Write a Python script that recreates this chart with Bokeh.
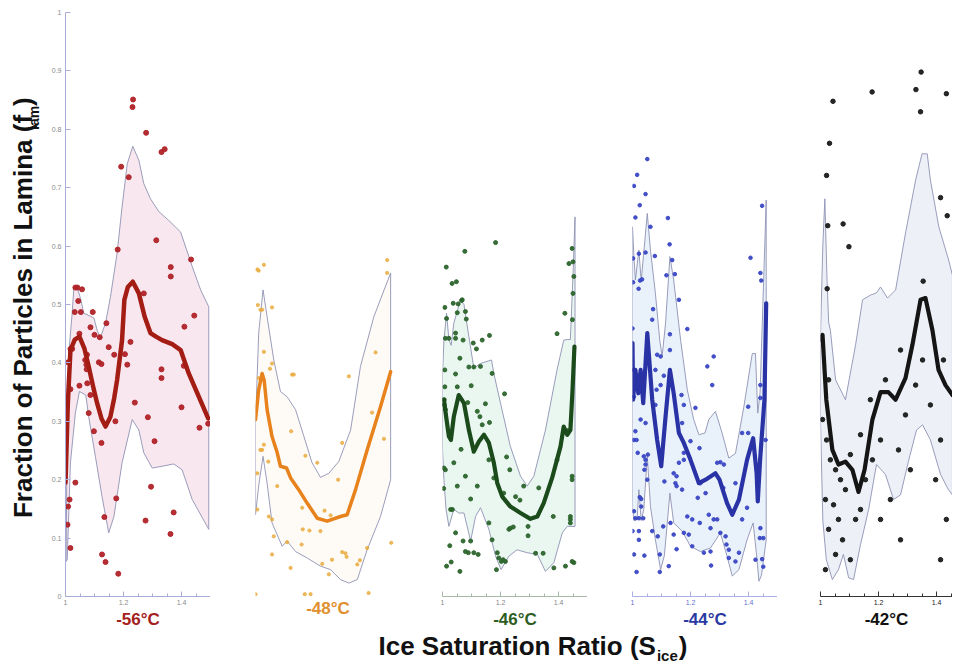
import math
from bokeh.plotting import figure
from bokeh.models import Range1d, FixedTicker, CustomJSTickFormatter, Label
from bokeh.layouts import row, column
from bokeh.embed import file_html
from bokeh.resources import INLINE

# ---------------- data ----------------
temps = ["-56°C", "-48°C", "-46°C", "-44°C", "-42°C"]
x_ticks = [1.0, 1.2, 1.4]
x_minor = [1.05, 1.1, 1.15, 1.25, 1.3, 1.35, 1.45]
y_ticks = [0, 0.1, 0.2, 0.3, 0.4, 0.5, 0.6, 0.7, 0.8, 0.9, 1.0]

# -56 C
t56_points = [(1.233,0.851),(1.231,0.838),(1.278,0.794),(1.331,0.761),(1.342,0.766),(1.192,0.736),(1.218,0.718),
    (1.313,0.610),(1.180,0.594),(1.433,0.577),(1.363,0.564),(1.363,0.548),(1.270,0.519),(1.444,0.481),(1.410,0.462),
    (1.141,0.468),(1.034,0.529),(1.041,0.529),(1.057,0.526),(1.044,0.506),(1.032,0.487),(1.053,0.487),(1.094,0.487),
    (1.086,0.461),(1.100,0.448),(1.048,0.450),(1.017,0.424),(1.023,0.424),(1.009,0.401),(1.074,0.414),(1.068,0.405),
    (1.072,0.397),(1.073,0.389),(1.115,0.401),(1.124,0.398),(1.118,0.444),(1.149,0.427),(1.168,0.414),(1.224,0.436),
    (1.205,0.415),(1.213,0.397),(1.048,0.361),(1.075,0.365),(1.017,0.355),(1.086,0.345),(1.080,0.314),(1.098,0.283),
    (1.124,0.263),(1.172,0.300),(1.239,0.332),(1.284,0.307),(1.307,0.266),(1.331,0.389),(1.331,0.374),(1.408,0.395),
    (1.400,0.324),(1.462,0.289),(1.492,0.296),(1.295,0.188),(1.175,0.168),(1.034,0.195),(1.014,0.166),(1.009,0.154),
    (1.007,0.123),(1.017,0.083),(1.134,0.136),(1.276,0.130),(1.373,0.144),(1.362,0.107),(1.126,0.072),(1.138,0.059),
    (1.182,0.039)]
t56_mean_x = [1.0,1.008,1.017,1.032,1.048,1.065,1.080,1.095,1.109,1.124,1.138,1.155,1.168,1.178,1.195,1.203,1.215,
    1.232,1.253,1.273,1.293,1.312,1.333,1.368,1.397,1.425,1.460,1.492]
t56_mean_y = [0.195,0.33,0.422,0.44,0.445,0.425,0.394,0.36,0.331,0.305,0.291,0.308,0.34,0.371,0.439,0.508,0.53,
    0.539,0.519,0.479,0.451,0.445,0.439,0.432,0.422,0.382,0.342,0.305]
t56_up_x = [1.002,1.006,1.012,1.023,1.029,1.040,1.052,1.063,1.086,1.098,1.109,1.120,1.138,1.155,1.178,1.195,1.213,
    1.232,1.253,1.270,1.293,1.322,1.356,1.397,1.437,1.466,1.494]
t56_up_y = [0.06,0.30,0.42,0.485,0.53,0.53,0.51,0.485,0.48,0.477,0.456,0.443,0.468,0.513,0.588,0.667,0.741,0.771,
    0.747,0.707,0.681,0.659,0.644,0.624,0.565,0.525,0.496]
t56_lo_x = [1.002,1.006,1.017,1.034,1.048,1.070,1.080,1.103,1.126,1.149,1.167,1.195,1.230,1.253,1.270,1.299,1.333,
    1.373,1.402,1.437,1.494]
t56_lo_y = [0.06,0.063,0.229,0.314,0.351,0.345,0.308,0.240,0.171,0.109,0.137,0.229,0.303,0.285,0.246,0.220,0.223,
    0.227,0.217,0.166,0.115]

# -48 C
t48_points = [(1.006,0.560),(1.011,0.558),(1.029,0.568),(1.454,0.554),(1.454,0.576),(1.008,0.499),(1.017,0.491),
    (1.023,0.491),(1.057,0.495),(1.029,0.419),(1.057,0.399),(1.050,0.390),(1.126,0.380),(1.132,0.380),(1.011,0.374),
    (1.414,0.418),(1.322,0.377),(1.402,0.315),(1.443,0.270),(1.123,0.283),(1.299,0.263),(1.029,0.260),(1.017,0.251),
    (1.023,0.251),(1.044,0.231),(1.172,0.241),(1.006,0.211),(1.075,0.189),(1.213,0.229),(1.285,0.200),(1.161,0.152),
    (1.238,0.147),(1.006,0.149),(1.046,0.137),(1.057,0.132),(1.259,0.139),(1.163,0.115),(1.186,0.113),(1.224,0.112),
    (1.063,0.103),(1.159,0.089),(1.109,0.093),(1.299,0.076),(1.310,0.074),(1.314,0.068),(1.264,0.063),(1.230,0.056),
    (1.360,0.062),(1.351,0.055),(1.385,0.083),(1.468,0.092),(1.121,0.049),(1.057,0.072),(1.253,0.038),(1.0,0.004),
    (1.17,0.004),(1.19,0.004),(1.39,0.006)]
t48_mean_x = [1.0,1.011,1.023,1.030,1.040,1.057,1.075,1.086,1.107,1.121,1.149,1.178,1.213,1.247,1.293,1.316,1.345,
    1.385,1.431,1.466]
t48_mean_y = [0.303,0.354,0.382,0.37,0.320,0.274,0.246,0.223,0.22,0.203,0.183,0.160,0.134,0.129,0.137,0.14,0.183,
    0.251,0.325,0.385]
t48_up_x = [1.0,1.011,1.026,1.040,1.063,1.086,1.109,1.138,1.167,1.195,1.224,1.253,1.287,1.328,1.362,1.408,1.466]
t48_up_y = [0.296,0.451,0.525,0.479,0.405,0.351,0.342,0.320,0.274,0.229,0.204,0.211,0.231,0.285,0.394,0.479,0.554]
t48_lo_x = [1.0,1.011,1.026,1.040,1.057,1.092,1.109,1.138,1.178,1.224,1.259,1.293,1.322,1.351,1.385,1.431,1.466]
t48_lo_y = [0.14,0.19,0.240,0.194,0.126,0.086,0.095,0.077,0.066,0.052,0.046,0.029,0.023,0.029,0.080,0.137,0.2]

# -46 C
t46_points = [(1.183,0.606),(1.077,0.591),(1.013,0.564),(1.033,0.536),(1.048,0.539),(1.008,0.495),(1.054,0.501),
    (1.066,0.507),(1.068,0.508),(1.037,0.502),(1.014,0.476),(1.051,0.486),(1.079,0.488),(1.082,0.475),(1.010,0.442),
    (1.022,0.442),(1.045,0.442),(1.045,0.451),(1.071,0.439),(1.137,0.439),(1.162,0.447),(1.106,0.434),(1.117,0.424),
    (1.060,0.408),(1.008,0.388),(1.091,0.393),(1.108,0.393),(1.045,0.381),(1.131,0.394),(1.171,0.382),(1.008,0.359),
    (1.051,0.359),(1.099,0.361),(1.214,0.347),(1.006,0.337),(1.006,0.328),(1.010,0.320),(1.087,0.332),(1.148,0.330),
    (1.120,0.317),(1.129,0.308),(1.162,0.298),(1.137,0.294),(1.064,0.252),(1.039,0.229),(1.005,0.220),(1.010,0.217),
    (1.160,0.234),(1.221,0.239),(1.232,0.217),(1.079,0.206),(1.051,0.189),(1.120,0.189),(1.177,0.203),(1.211,0.177),
    (1.004,0.185),(1.097,0.167),(1.332,0.186),(1.280,0.189),(1.252,0.171),(1.267,0.165),(1.395,0.234),(1.432,0.284),
    (1.447,0.206),(1.447,0.200),(1.028,0.149),(1.034,0.149),(1.382,0.137),(1.441,0.137),(1.441,0.132),(1.441,0.126),
    (1.160,0.126),(1.234,0.117),(1.229,0.115),(1.244,0.119),(1.295,0.120),(1.295,0.104),(1.045,0.109),(1.071,0.095),
    (1.097,0.095),(1.171,0.097),(1.025,0.087),(1.079,0.077),(1.108,0.075),(1.123,0.072),(1.089,0.075),(1.189,0.075),
    (1.194,0.066),(1.209,0.063),(1.217,0.060),(1.203,0.060),(1.321,0.074),(1.347,0.074),(1.030,0.059),(1.014,0.052),
    (1.060,0.043),(1.186,0.046),(1.384,0.049),(1.424,0.052),(1.447,0.060),(1.453,0.058),(1.447,0.596),(1.450,0.573),
    (1.453,0.548),(1.450,0.519),(1.448,0.474),(1.436,0.570),(1.422,0.485),(1.395,0.450)]
t46_mean_x = [1.0,1.005,1.012,1.022,1.029,1.039,1.056,1.074,1.091,1.108,1.125,1.143,1.160,1.177,1.189,1.206,1.234,
    1.269,1.303,1.327,1.349,1.378,1.407,1.418,1.430,1.441,1.448,1.455]
t46_mean_y = [0.33,0.337,0.31,0.274,0.268,0.308,0.345,0.331,0.285,0.248,0.265,0.277,0.263,0.229,0.194,0.171,0.154,
    0.143,0.133,0.137,0.160,0.203,0.257,0.291,0.277,0.285,0.35,0.428]
t46_up_x = [1.0,1.005,1.014,1.022,1.030,1.039,1.062,1.074,1.091,1.108,1.131,1.169,1.177,1.200,1.234,1.269,1.292,
    1.315,1.355,1.395,1.418,1.430,1.441,1.450,1.457]
t46_up_y = [0.38,0.439,0.485,0.44,0.43,0.468,0.508,0.50,0.445,0.391,0.399,0.405,0.382,0.331,0.257,0.206,0.189,
    0.206,0.285,0.388,0.439,0.44,0.44,0.55,0.65]
t46_lo_x = [1.0,1.005,1.012,1.022,1.039,1.056,1.074,1.097,1.114,1.131,1.160,1.183,1.202,1.229,1.257,1.292,1.327,
    1.355,1.384,1.413,1.430,1.441,1.457]
t46_lo_y = [0.25,0.2,0.15,0.120,0.149,0.143,0.143,0.095,0.137,0.152,0.115,0.069,0.046,0.069,0.080,0.075,0.072,
    0.043,0.058,0.109,0.12,0.120,0.12]

# -44 C
t44_points = [(1.051,0.749),(1.016,0.722),(1.005,0.703),(1.045,0.689),(1.025,0.670),(1.010,0.649),(1.122,0.648),
    (1.447,0.669),(1.062,0.633),(1.128,0.603),(1.002,0.579),(1.022,0.587),(1.045,0.589),(1.077,0.583),(1.137,0.576),
    (1.407,0.580),(1.117,0.550),(1.146,0.552),(1.002,0.538),(1.026,0.541),(1.033,0.543),(1.021,0.527),(1.441,0.554),
    (1.444,0.541),(1.160,0.508),(1.071,0.492),(1.068,0.474),(1.000,0.459),(1.189,0.458),(1.129,0.449),(1.129,0.422),
    (1.097,0.411),(1.085,0.414),(1.280,0.411),(1.258,0.394),(1.005,0.388),(1.079,0.388),(1.108,0.378),(1.275,0.362),
    (1.441,0.362),(1.083,0.354),(1.097,0.362),(1.005,0.342),(1.169,0.345),(1.079,0.328),(1.177,0.328),(1.399,0.325),
    (1.441,0.340),(1.217,0.323),(1.028,0.303),(1.045,0.297),(1.171,0.297),(1.010,0.283),(1.005,0.268),(1.014,0.268),
    (1.200,0.266),(1.378,0.280),(1.399,0.280),(1.459,0.268),(1.018,0.246),(1.039,0.240),(1.053,0.243),(1.045,0.234),
    (1.045,0.226),(1.231,0.254),(1.177,0.246),(1.177,0.234),(1.041,0.217),(1.051,0.200),(1.160,0.229),(1.142,0.211),
    (1.152,0.206),(1.110,0.197),(1.234,0.194),(1.355,0.194),(1.292,0.229),(1.303,0.230),(1.315,0.226),(1.148,0.194),
    (1.152,0.189),(1.171,0.183),(1.225,0.169),(1.252,0.177),(1.313,0.186),(1.395,0.152),(1.025,0.170),(1.030,0.167),
    (1.030,0.154),(1.005,0.146),(1.010,0.134),(1.022,0.134),(1.037,0.134),(1.189,0.137),(1.206,0.132),(1.263,0.140),
    (1.280,0.132),(1.292,0.132),(1.232,0.126),(1.378,0.132),(1.269,0.117),(1.131,0.126),(1.000,0.112),(1.022,0.112),
    (1.068,0.112),(1.087,0.103),(1.106,0.120),(1.142,0.106),(1.177,0.109),(1.194,0.106),(1.303,0.109),(1.321,0.103),
    (1.441,0.117),(1.439,0.100),(1.451,0.100),(1.022,0.097),(1.206,0.086),(1.246,0.075),(1.269,0.077),(1.324,0.089),
    (1.332,0.080),(1.152,0.081),(1.367,0.075),(1.094,0.072),(1.005,0.072),(1.041,0.070),(1.332,0.066),(1.355,0.060),
    (1.424,0.063),(1.447,0.064),(1.451,0.051),(1.125,0.052),(1.271,0.053),(1.014,0.042),(1.094,0.042)]
t44_mean_x = [1.0,1.002,1.010,1.020,1.028,1.037,1.051,1.068,1.085,1.099,1.114,1.129,1.142,1.160,1.177,1.200,1.229,
    1.252,1.286,1.300,1.326,1.344,1.367,1.395,1.416,1.428,1.432,1.440,1.455,1.461]
t44_mean_y = [0.434,0.337,0.388,0.348,0.388,0.331,0.451,0.337,0.268,0.223,0.308,0.388,0.348,0.280,0.263,0.234,0.194,
    0.2,0.211,0.2,0.160,0.140,0.166,0.234,0.271,0.211,0.163,0.234,0.337,0.502]
t44_up_x = [1.0,1.005,1.010,1.022,1.030,1.039,1.051,1.062,1.079,1.094,1.102,1.114,1.129,1.142,1.166,1.189,1.211,
    1.229,1.250,1.263,1.286,1.309,1.332,1.355,1.384,1.413,1.424,1.432,1.440,1.461]
t44_up_y = [0.633,0.582,0.542,0.593,0.54,0.59,0.656,0.593,0.519,0.439,0.411,0.468,0.582,0.542,0.439,0.354,0.303,
    0.277,0.28,0.303,0.317,0.280,0.237,0.245,0.325,0.416,0.416,0.314,0.35,0.679]
t44_lo_x = [1.0,1.005,1.016,1.022,1.030,1.039,1.051,1.062,1.079,1.097,1.110,1.129,1.142,1.171,1.200,1.234,1.269,
    1.303,1.326,1.344,1.367,1.395,1.416,1.428,1.436,1.445,1.461]
t44_lo_y = [0.149,0.13,0.132,0.183,0.13,0.149,0.240,0.154,0.097,0.046,0.07,0.177,0.126,0.112,0.086,0.077,0.083,
    0.109,0.069,0.035,0.046,0.097,0.126,0.07,0.026,0.037,0.097]

# -42 C
t42_points = [(1.347,0.898),(1.329,0.868),(1.345,0.830),(1.178,0.864),(1.043,0.848),(1.434,0.861),(1.031,0.776),
    (1.021,0.721),(1.414,0.683),(1.437,0.652),(1.025,0.635),(1.078,0.638),(1.098,0.599),(1.023,0.527),(1.354,0.540),
    (1.028,0.371),(1.007,0.303),(1.021,0.268),(1.034,0.234),(1.052,0.217),(1.069,0.200),(1.017,0.166),(1.045,0.157),
    (1.086,0.183),(1.103,0.243),(1.062,0.132),(1.028,0.115),(1.121,0.132),(1.138,0.149),(1.076,0.097),(1.052,0.072),
    (1.017,0.046),(1.103,0.063),(1.155,0.200),(1.179,0.234),(1.207,0.132),(1.241,0.166),(1.269,0.251),(1.293,0.311),
    (1.328,0.362),(1.352,0.405),(1.379,0.328),(1.414,0.268),(1.434,0.132),(1.414,0.063),(1.397,0.200),(1.310,0.217),
    (1.276,0.097),(1.172,0.337),(1.207,0.268),(1.138,0.277),(1.276,0.422),(1.424,0.405),(1.224,0.371)]
t42_mean_x = [1.0,1.007,1.020,1.041,1.062,1.086,1.110,1.131,1.152,1.179,1.207,1.234,1.259,1.293,1.317,1.345,1.362,
    1.386,1.407,1.431,1.455]
t42_mean_y = [0.44,0.448,0.337,0.251,0.226,0.231,0.217,0.179,0.217,0.303,0.350,0.350,0.337,0.374,0.431,0.508,0.511,
    0.456,0.388,0.362,0.345]
t42_up_x = [1.0,1.008,1.015,1.022,1.028,1.034,1.052,1.086,1.121,1.145,1.172,1.193,1.207,1.231,1.259,1.293,1.328,
    1.350,1.368,1.379,1.408,1.442,1.455]
t42_up_y = [0.45,0.60,0.681,0.55,0.47,0.456,0.371,0.337,0.431,0.508,0.516,0.52,0.53,0.511,0.525,0.622,0.713,0.758,
    0.758,0.713,0.633,0.576,0.55]
t42_lo_x = [1.0,1.008,1.020,1.041,1.062,1.079,1.097,1.114,1.138,1.166,1.193,1.224,1.252,1.276,1.303,1.331,1.352,
    1.379,1.414,1.441,1.455]
t42_lo_y = [0.3,0.13,0.063,0.029,0.046,0.072,0.032,0.029,0.089,0.149,0.226,0.209,0.166,0.174,0.231,0.285,0.294,
    0.268,0.209,0.183,0.174]

# ---------------- styling ----------------
FONT = "Liberation Sans"
BOUND = "#8e92b4"
FRAME_TOP = 12
FRAME_H = 585
FRAME_BOT = 34
H_ROW = FRAME_TOP + FRAME_H + FRAME_BOT

styles = [
    dict(label="#a3201b", line="#a31d14", lw=4.5, pts="#b02328", ps=5, pa=0.95, fill="#f4d3e2", fa=0.55,
         axis="#a9acd6", tick="#8a8a8a", show_axis=True, bl=23, fw=145),
    dict(label="#e0902e", line="#e8821c", lw=3.5, pts="#e9aa3c", ps=3.2, pa=0.8, fill="#fdf2e4", fa=0.3,
         axis="#ffffff", tick="#ffffff", show_axis=False, bl=45, fw=145),
    dict(label="#2e5e1f", line="#1b4a1b", lw=4.2, pts="#2d652d", ps=4, pa=0.95, fill="#dcf1e8", fa=0.6,
         axis="#a6b9a6", tick="#888888", show_axis=True, bl=42, fw=145),
    dict(label="#2a3aa3", line="#2a33a6", lw=4.2, pts="#3a47c4", ps=3.6, pa=0.95, fill="#dbe7f7", fa=0.6,
         axis="#aab0e4", tick="#6870d0", show_axis=True, bl=45, fw=145),
    dict(label="#111111", line="#151515", lw=4.2, pts="#1a1a1a", ps=4.5, pa=0.95, fill="#e1e6f2", fa=0.6,
         axis="#333333", tick="#222222", show_axis=True, bl=43, fw=132),
]
PX_PER_UNIT = 290.0

series = [
    (t56_points, t56_mean_x, t56_mean_y, t56_up_x, t56_up_y, t56_lo_x, t56_lo_y),
    (t48_points, t48_mean_x, t48_mean_y, t48_up_x, t48_up_y, t48_lo_x, t48_lo_y),
    (t46_points, t46_mean_x, t46_mean_y, t46_up_x, t46_up_y, t46_lo_x, t46_lo_y),
    (t44_points, t44_mean_x, t44_mean_y, t44_up_x, t44_up_y, t44_lo_x, t44_lo_y),
    (t42_points, t42_mean_x, t42_mean_y, t42_up_x, t42_up_y, t42_lo_x, t42_lo_y),
]

fmt_code = "return String(tick);"


def make_panel(i):
    st = styles[i]
    pts, mx, my, ux, uy, lx, ly = series[i]
    first = (i == 0)
    p = figure(width=st["bl"] + st["fw"], height=H_ROW,
               x_range=Range1d(1.0, 1.0 + st["fw"] / PX_PER_UNIT), y_range=Range1d(0.0, 1.0),
               output_backend="svg", toolbar_location=None,
               y_axis_type="linear" if first else None,
               min_border_left=st["bl"], min_border_right=0,
               min_border_top=FRAME_TOP, min_border_bottom=FRAME_BOT)
    p.outline_line_color = None
    p.background_fill_color = "white"
    p.border_fill_color = "white"
    for g in p.grid:
        g.visible = False

    p.patch(ux + lx[::-1], uy + ly[::-1], fill_color=st["fill"], fill_alpha=st["fa"],
            line_color=BOUND, line_width=1, line_alpha=0.9)
    p.scatter([a for a, b in pts], [b for a, b in pts], marker="circle", size=st["ps"],
              fill_color=st["pts"], line_color=st["pts"], alpha=st["pa"])
    p.line(mx, my, line_color=st["line"], line_width=st["lw"], line_join="round", line_cap="round")

    ax = p.xaxis[0]
    ax.ticker = FixedTicker(ticks=x_ticks, minor_ticks=x_minor)
    ax.formatter = CustomJSTickFormatter(code=fmt_code)
    ax.axis_line_color = st["axis"]
    ax.major_tick_line_color = st["axis"]
    ax.minor_tick_line_color = st["axis"]
    ax.major_tick_in = 5
    ax.major_tick_out = 0
    ax.minor_tick_in = 3
    ax.minor_tick_out = 0
    ax.major_label_text_font = FONT
    ax.major_label_text_font_size = "7px"
    ax.major_label_text_color = st["tick"]
    ax.major_label_standoff = 3
    if not st["show_axis"]:
        ax.axis_line_alpha = 0
        ax.major_tick_line_alpha = 0
        ax.minor_tick_line_alpha = 0
        ax.major_label_text_alpha = 0
    ax.axis_label = temps[i]
    ax.axis_label_text_font = FONT
    ax.axis_label_text_font_style = "bold"
    ax.axis_label_text_font_size = "17px"
    ax.axis_label_text_color = st["label"]
    ax.axis_label_standoff = 2

    if first:
        ay = p.yaxis[0]
        ay.ticker = FixedTicker(ticks=y_ticks, minor_ticks=[])
        ay.formatter = CustomJSTickFormatter(code=fmt_code)
        ay.axis_line_color = "#a9acd6"
        ay.major_tick_line_color = "#a9acd6"
        ay.minor_tick_line_color = None
        ay.major_tick_in = 5
        ay.major_tick_out = 0
        ay.major_label_text_font = FONT
        ay.major_label_text_font_size = "7px"
        ay.major_label_text_color = "#8a8a8a"
        ay.major_label_standoff = 4
    return p


panels = [make_panel(i) for i in range(5)]


def title_piece(fig, x, y, text, size, angle=0.0):
    fig.add_layout(Label(x=x, y=y, text=text, angle=angle, text_font=FONT, text_font_style="bold",
                         text_font_size=f"{size}px", text_align="center", text_baseline="middle",
                         text_color="#111111"))


# y-axis title (with subscript) in its own narrow strip; positions in pixels
YL_W = 42
yl = figure(width=YL_W, height=H_ROW, x_range=Range1d(0, YL_W), y_range=Range1d(0, H_ROW),
            x_axis_type=None, y_axis_type=None, output_backend="svg", toolbar_location=None,
            min_border_left=0, min_border_right=0, min_border_top=0, min_border_bottom=0)
yl.outline_line_color = None
MID = 0.35
ys_start = 530.0                      # pixel row where the title begins (from top)
base_x = 32.0
len_main = 15.504 * 26
len_sub = 1.723 * 14
len_par = 0.333 * 26
title_piece(yl, base_x - MID * 26, H_ROW - (ys_start - len_main / 2), "Fraction of Particles in Lamina (f", 26,
            math.pi / 2)
title_piece(yl, base_x + 6 - MID * 14, H_ROW - (ys_start - len_main - 1 - len_sub / 2), "lam", 14, math.pi / 2)
title_piece(yl, base_x - MID * 26, H_ROW - (ys_start - len_main - 2 - len_sub - len_par / 2), ")", 26,
            math.pi / 2)

# x-axis title (with subscript) in its own strip
TOTAL_W = YL_W + sum(s["bl"] + s["fw"] for s in styles)
XL_H = 33
xl = figure(width=TOTAL_W, height=XL_H, x_range=Range1d(0, TOTAL_W), y_range=Range1d(0, XL_H),
            x_axis_type=None, y_axis_type=None, output_backend="svg", toolbar_location=None,
            min_border_left=0, min_border_right=0, min_border_top=0, min_border_bottom=0)
xl.outline_line_color = None
xs_start = 378.0
base_y = 655.0 - H_ROW                # baseline, pixels from the strip's top
xlen_main = 10.669 * 26
xlen_sub = 1.39 * 15
title_piece(xl, xs_start + xlen_main / 2, XL_H - (base_y - MID * 26), "Ice Saturation Ratio (S", 26)
title_piece(xl, xs_start + xlen_main + 1 + xlen_sub / 2, XL_H - (base_y + 5 - MID * 15), "ice", 15)
title_piece(xl, xs_start + xlen_main + 2 + xlen_sub + len_par / 2, XL_H - (base_y - MID * 26), ")", 26)

layout = column(row([yl] + panels, spacing=0), xl, spacing=0)

with open("out.html", "w") as f:
    f.write(file_html(layout, INLINE))
